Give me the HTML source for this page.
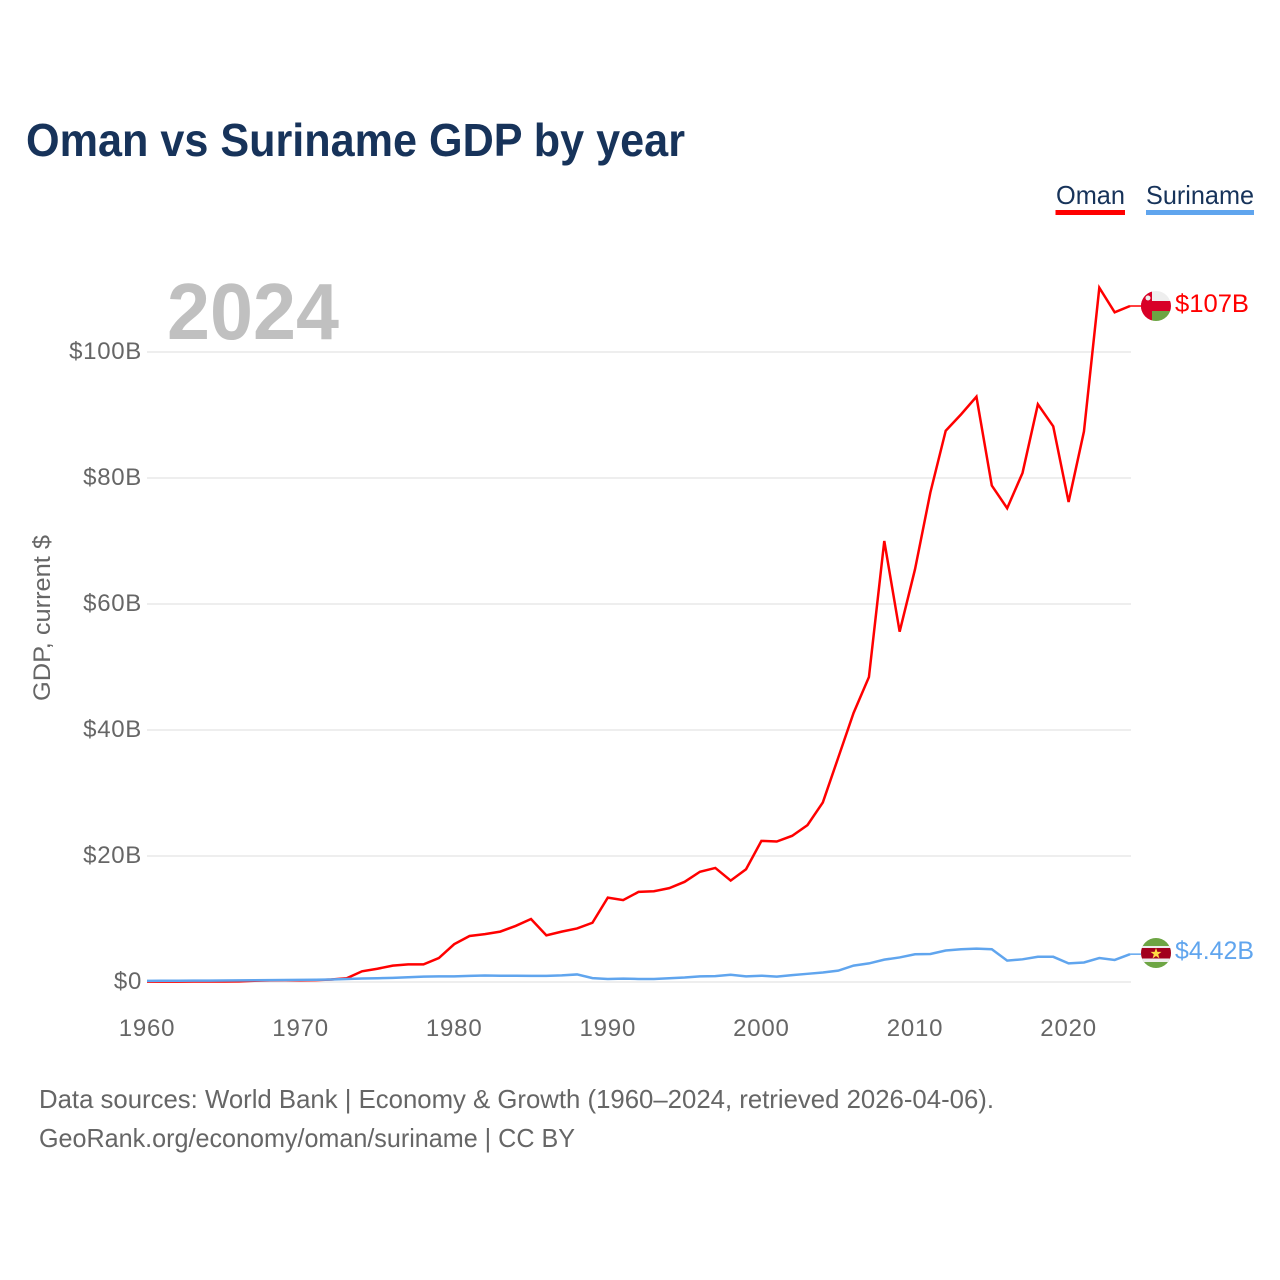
<!DOCTYPE html>
<html>
<head>
<meta charset="utf-8">
<title>Oman vs Suriname GDP by year</title>
<style>
html,body{margin:0;padding:0;background:#fff;}
svg{display:block;}
text{font-family:"Liberation Sans",sans-serif;}
</style>
</head>
<body>
<svg id="chart" xmlns="http://www.w3.org/2000/svg" width="1280" height="1280" viewBox="0 0 1280 1280">
  <rect width="1280" height="1280" fill="#ffffff"/>
  <defs>
    <clipPath id="clip-oman"><circle id="clip-oman-c" cx="1156" cy="306" r="15"/></clipPath>
    <clipPath id="clip-suriname"><circle id="clip-suriname-c" cx="1156" cy="953" r="15"/></clipPath>
  </defs>

  <text x="26" y="156" font-size="46" font-weight="700" fill="#17335a" textLength="659" lengthAdjust="spacingAndGlyphs">Oman vs Suriname GDP by year</text>

  <g>
    <g>
      <text x="1056" y="204" font-size="26" fill="#17335a" textLength="69" lengthAdjust="spacingAndGlyphs">Oman</text>
      <rect x="1055.5" y="210" width="69.5" height="5" fill="#ff0000"/>
    </g>
    <g>
      <text x="1146" y="204" font-size="26" fill="#17335a" textLength="108" lengthAdjust="spacingAndGlyphs">Suriname</text>
      <rect x="1146" y="210" width="108" height="5" fill="#60a5ee"/>
    </g>
  </g>

  <g id="grid"></g>
  <g id="yticks"></g>
  <g id="xticks"></g>

  <text x="167" y="339" font-size="80" font-weight="700" fill="#c0c0c0" textLength="172" lengthAdjust="spacingAndGlyphs">2024</text>

  <text transform="translate(50,701) rotate(-90)" x="0" y="0" font-size="24" fill="#666666" textLength="166" lengthAdjust="spacingAndGlyphs">GDP, current $</text>

  <g id="series"></g>

  <g id="flag-oman" clip-path="url(#clip-oman)">
    <rect id="om-bg" x="1141" y="291" width="30" height="30" fill="#eeeeee"/>
    <rect id="om-red" x="1141" y="301" width="30" height="10" fill="#d80027"/>
    <rect id="om-green" x="1152" y="311" width="19" height="10" fill="#6da544"/>
    <rect id="om-left" x="1141" y="291" width="11" height="30" fill="#d80027"/>
    <circle id="om-emblem" cx="1148" cy="298" r="2.5" fill="#eeeeee"/>
  </g>
  <g id="flag-suriname" clip-path="url(#clip-suriname)">
    <rect id="su-green" x="1141" y="938" width="30" height="30" fill="#6da544"/>
    <rect id="su-white" x="1141" y="946" width="30" height="16" fill="#eeeeee"/>
    <rect id="su-red" x="1141" y="948" width="30" height="10.5" fill="#a2001d"/>
    <polygon id="su-star" points="1156,948 1157.4,951.9 1161.5,951.9 1158.2,954.4 1159.4,958.4 1156,956 1152.6,958.4 1153.8,954.4 1150.5,951.9 1154.6,951.9" fill="#ffda44"/>
  </g>

  <text id="label-oman" x="1175" y="312" font-size="25" fill="#ff0000" textLength="74" lengthAdjust="spacingAndGlyphs">$107B</text>
  <text id="label-suriname" x="1175" y="959" font-size="25" fill="#60a5ee" textLength="79" lengthAdjust="spacingAndGlyphs">$4.42B</text>

  <text x="39" y="1108" font-size="26" fill="#666666" textLength="955" lengthAdjust="spacingAndGlyphs">Data sources: World Bank | Economy &amp; Growth (1960–2024, retrieved 2026-04-06).</text>
  <text x="39" y="1147" font-size="26" fill="#666666" textLength="536" lengthAdjust="spacingAndGlyphs">GeoRank.org/economy/oman/suriname | CC BY</text>
</svg>

<script>
const startYear = 1960;
const xTickYears = [1960, 1970, 1980, 1990, 2000, 2010, 2020];
const yTickValues = [0, 20, 40, 60, 80, 100];
const yTickLabels = ["$0", "$20B", "$40B", "$60B", "$80B", "$100B"];
const omanGdp = [
  0.05,0.06,0.06,0.07,0.07,0.08,0.09,0.2,0.25,0.27,
  0.26,0.3,0.4,0.6,1.7,2.1,2.6,2.8,2.8,3.8,
  6.0,7.3,7.6,8.0,8.9,10.0,7.4,8.0,8.5,9.4,
  13.4,13.0,14.3,14.4,14.9,15.9,17.5,18.1,16.1,17.9,
  22.4,22.3,23.2,24.9,28.5,35.6,42.7,48.4,70.0,55.6,
  65.5,77.7,87.5,90.1,92.9,78.8,75.2,80.8,91.7,88.2,
  76.2,87.4,110.2,106.3,107.3
];
const surinameGdp = [
  0.18,0.19,0.2,0.21,0.22,0.24,0.26,0.28,0.3,0.32,
  0.33,0.35,0.4,0.47,0.55,0.6,0.65,0.75,0.85,0.9,
  0.9,0.98,1.03,1.0,1.0,0.97,0.97,1.05,1.2,0.62,
  0.47,0.53,0.48,0.48,0.6,0.72,0.9,0.94,1.15,0.9,
  1.0,0.85,1.1,1.3,1.5,1.8,2.6,2.95,3.55,3.9,
  4.4,4.45,5.0,5.2,5.3,5.2,3.4,3.6,4.0,4.0,
  2.95,3.1,3.8,3.5,4.42
];

const NS = "http://www.w3.org/2000/svg";
function xScale(year) { return 147 + (year - 1960) * 15.36; }
function yScale(value) { return 982 - value * 6.3; }

const grid = document.getElementById("grid");
const yticks = document.getElementById("yticks");
const xticks = document.getElementById("xticks");
const series = document.getElementById("series");

yTickValues.forEach(function (v, i) {
  const line = document.createElementNS(NS, "line");
  
  
  line.setAttribute("x1", 147);
  line.setAttribute("x2", 1131);
  line.setAttribute("y1", yScale(v));
  line.setAttribute("y2", yScale(v));
  line.setAttribute("stroke", "#eeeeee");
  line.setAttribute("stroke-width", 2);
  grid.appendChild(line);

  const t = document.createElementNS(NS, "text");
  
  
  t.setAttribute("x", 142);
  t.setAttribute("y", yScale(v) + 7);
  t.setAttribute("text-anchor", "end");
  t.setAttribute("font-size", 24);
  t.setAttribute("letter-spacing", "0.7");
  t.setAttribute("fill", "#666666");
  t.textContent = yTickLabels[i];
  yticks.appendChild(t);
});

xTickYears.forEach(function (year) {
  const t = document.createElementNS(NS, "text");
  
  
  t.setAttribute("x", xScale(year));
  t.setAttribute("y", 1036);
  t.setAttribute("text-anchor", "middle");
  t.setAttribute("font-size", 24);
  t.setAttribute("letter-spacing", "0.8");
  t.setAttribute("fill", "#666666");
  t.textContent = String(year);
  xticks.appendChild(t);
});

function drawSeries(values, color) {
  const pts = values.map(function (v, i) {
    return xScale(startYear + i).toFixed(2) + "," + yScale(v).toFixed(2);
  });
  const lastY = yScale(values[values.length - 1]);
  const path = document.createElementNS(NS, "polyline");
  path.setAttribute("points", pts.join(" "));
  path.setAttribute("fill", "none");
  path.setAttribute("stroke", color);
  path.setAttribute("stroke-width", 2.5);
  path.setAttribute("stroke-linejoin", "miter");
  series.appendChild(path);
  const stub = document.createElementNS(NS, "line");
  
  
  stub.setAttribute("x1", xScale(startYear + values.length - 1));
  stub.setAttribute("x2", 1142);
  stub.setAttribute("y1", lastY);
  stub.setAttribute("y2", lastY);
  stub.setAttribute("stroke", color);
  stub.setAttribute("stroke-width", 1.5);
  series.appendChild(stub);
  return path;
}

const omanLine = drawSeries(omanGdp, "#ff0000");


const surinameLine = drawSeries(surinameGdp, "#60a5ee");


</script>
</body>
</html>
